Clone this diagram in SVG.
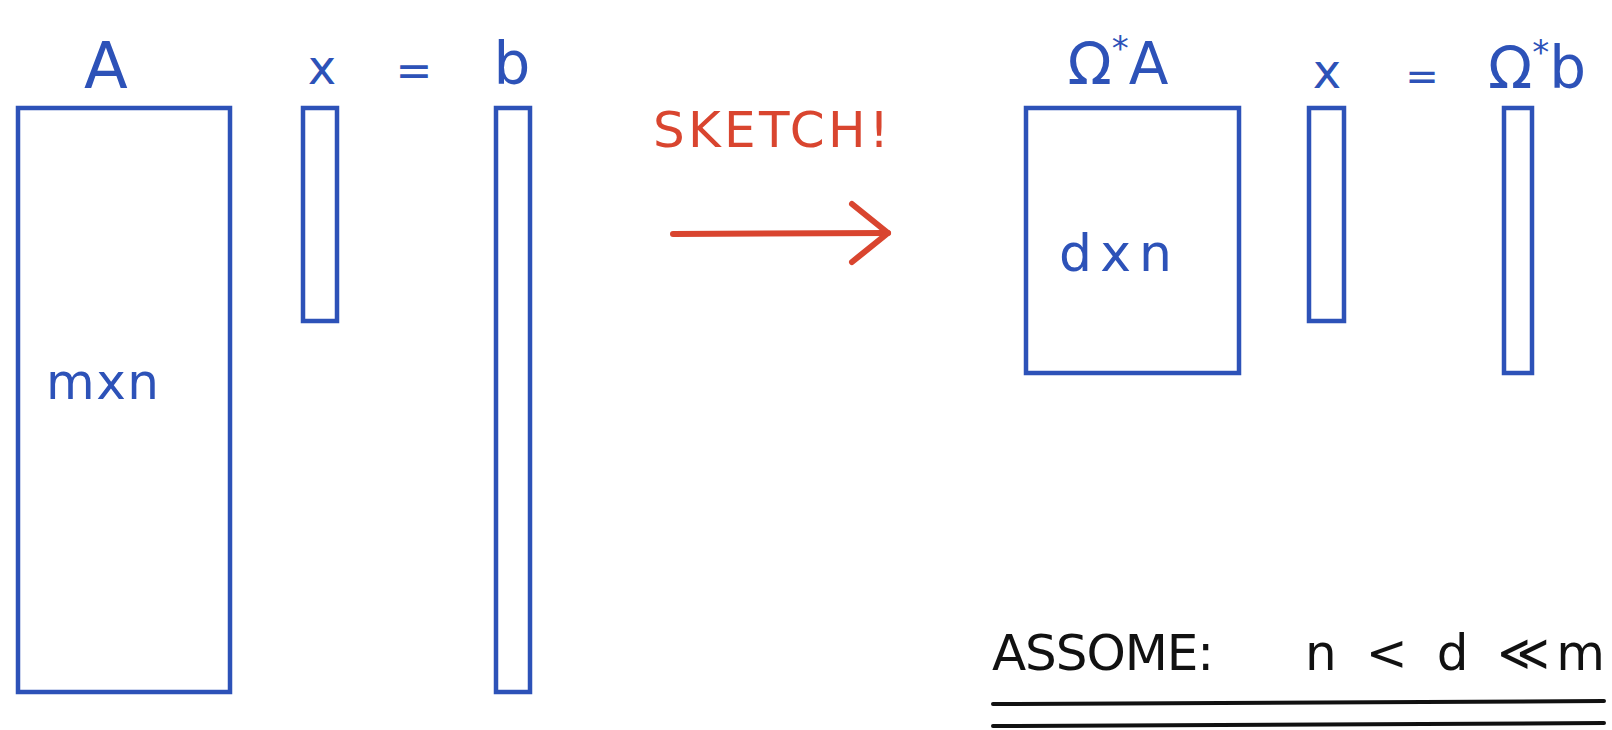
<svg xmlns="http://www.w3.org/2000/svg" width="1612" height="730" viewBox="0 0 1612 730">
<style>
.box{fill:none;stroke:#2d52b8;stroke-width:4.5}
.bt{fill:#2d52b8;font-family:"DejaVu Sans","Liberation Sans",sans-serif}
.rt{fill:#d9452f;font-family:"DejaVu Sans","Liberation Sans",sans-serif}
.kt{fill:#111;font-family:"DejaVu Sans","Liberation Sans",sans-serif}
.arr{fill:none;stroke:#d9452f;stroke-width:6;stroke-linecap:round;stroke-linejoin:round}
.ul{fill:none;stroke:#111;stroke-width:4;stroke-linecap:round}
</style>
<rect width="1612" height="730" fill="#fff"/>
<g id="matrixA">
<rect class="box" x="18" y="108" width="212" height="584"/>
<text class="bt" x="106" y="88" font-size="64" text-anchor="middle">A</text>
<text class="bt" x="46" y="399" font-size="50" textLength="113">mxn</text>
</g>
<g id="vectorX">
<rect class="box" x="303" y="108" width="34" height="213"/>
<text class="bt" x="322" y="84" font-size="48" text-anchor="middle">x</text>
</g>
<g id="equals1">
<text class="bt" x="414" y="86" font-size="44" text-anchor="middle">=</text>
</g>
<g id="vectorB">
<rect class="box" x="496" y="108" width="34" height="584"/>
<text class="bt" x="512" y="84" font-size="58" text-anchor="middle">b</text>
</g>
<g id="sketchLabel">
<text class="rt" x="653" y="147" font-size="50" textLength="236">SKETCH!</text>
</g>
<g id="connectors">
<path class="arr" d="M673,234 L888,233"/>
<path class="arr" d="M852,204 L888,233 L852,262"/>
</g>
<g id="matrixOmegaA">
<rect class="box" x="1026" y="108" width="213" height="265"/>
<text class="bt" x="1118" y="84" font-size="58" text-anchor="middle">Ω<tspan font-size="34" dy="-24">*</tspan><tspan dy="24">A</tspan></text>
<text class="bt" x="1059" y="271" font-size="52" textLength="113">dxn</text>
</g>
<g id="vectorX2">
<rect class="box" x="1309" y="108" width="35" height="213"/>
<text class="bt" x="1327" y="88" font-size="48" text-anchor="middle">x</text>
</g>
<g id="equals2">
<text class="bt" x="1422" y="90" font-size="40" text-anchor="middle">=</text>
</g>
<g id="vectorOmegaB">
<rect class="box" x="1504" y="108" width="28" height="265"/>
<text class="bt" x="1537" y="88" font-size="58" text-anchor="middle">Ω<tspan font-size="34" dy="-24">*</tspan><tspan dy="24">b</tspan></text>
</g>
<g id="assumption">
<text class="kt" x="992" y="670" font-size="50" textLength="222">ASSOME:</text>
<text class="kt" x="1305" y="670" font-size="50" textLength="300">n &lt; d ≪m</text>
<path class="ul" d="M993,704 L1604,701"/>
<path class="ul" d="M993,726 L1604,723"/>
</g>
</svg>
